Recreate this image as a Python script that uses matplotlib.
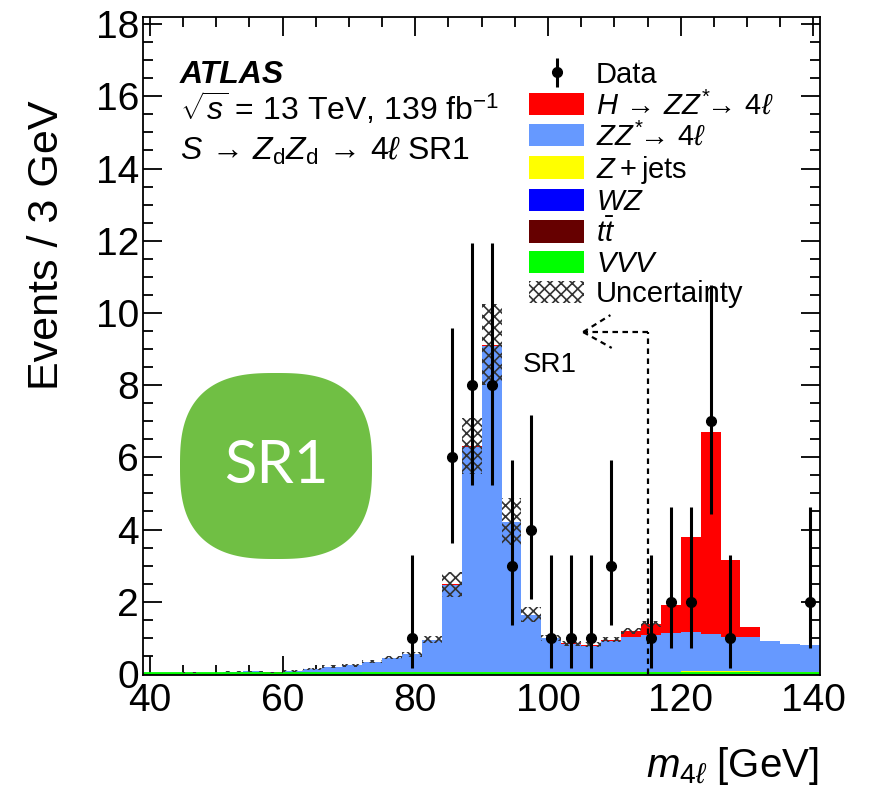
import numpy as np
import matplotlib
matplotlib.use('Agg')
import matplotlib.pyplot as plt
from matplotlib.patches import Patch, Polygon
from matplotlib.ticker import MultipleLocator

plt.rcParams['font.family'] = ['Liberation Sans', 'DejaVu Sans']
plt.rcParams['mathtext.fontset'] = 'custom'
plt.rcParams['mathtext.rm'] = 'Liberation Sans'
plt.rcParams['mathtext.it'] = 'Liberation Sans:italic'
plt.rcParams['mathtext.bf'] = 'Liberation Sans:bold'
plt.rcParams['hatch.linewidth'] = 1.2

####################DATOS####################
# bins de 3 GeV entre 39 y 141
edges = np.arange(39, 142, 3)

vvv = [0.02, 0.02, 0.02, 0.02, 0.02, 0.02, 0.02, 0.02, 0.02, 0.02, 0.02, 0.02, 0.02, 0.02, 0.02, 0.02, 0.02,
       0.02, 0.02, 0.02, 0.02, 0.02, 0.02, 0.02, 0.02, 0.02, 0.02, 0.02, 0.02, 0.02, 0.02, 0.02, 0.02, 0.02]
ttbar = [0, 0, 0, 0, 0, 0, 0, 0, 0, 0, 0, 0, 0, 0, 0, 0.003, 0.005, 0.005, 0.005, 0.003, 0, 0, 0, 0, 0, 0,
         0, 0, 0, 0, 0, 0, 0, 0]
wz = [0, 0, 0, 0, 0, 0, 0, 0, 0, 0, 0, 0, 0, 0, 0, 0.002, 0.002, 0.002, 0.002, 0.002, 0.002, 0.002, 0.002,
      0.002, 0.002, 0.002, 0.002, 0.002, 0.002, 0.002, 0.03, 0.002, 0.002, 0.002]
zjets = [0, 0.005, 0.005, 0.005, 0.01, 0.01, 0.01, 0.01, 0.01, 0.015, 0.015, 0.02, 0.02, 0.03, 0.03, 0.03,
         0.03, 0.03, 0.03, 0.03, 0.03, 0.03, 0.03, 0.03, 0.03, 0.03, 0.04, 0.05, 0.07, 0.07, 0.03, 0.03, 0.02, 0.02]
zz = [0.0, 0.0, 0.01, 0.0, 0.03, 0.04, 0.0, 0.06, 0.10, 0.17, 0.21, 0.30, 0.41, 0.49, 0.90, 2.42, 6.24, 9.04,
      4.14, 1.58, 0.93, 0.77, 0.73, 0.85, 0.98, 1.03, 1.07, 1.08, 1.02, 0.94, 0.94, 0.85, 0.78, 0.76]
higgs = [0, 0, 0, 0, 0, 0, 0.01, 0, 0, 0, 0, 0, 0, 0, 0, 0.01, 0.02, 0.02, 0.02, 0.01, 0.01, 0.03, 0.03, 0.05,
         0.15, 0.30, 0.77, 2.65, 5.58, 2.13, 0.27, 0.02, 0.01, 0.01]
unc = [0.0, 0.01, 0.01, 0.01, 0.02, 0.02, 0.02, 0.03, 0.03, 0.03, 0.04, 0.04, 0.05, 0.07, 0.09, 0.35, 0.78, 1.12,
       0.65, 0.21, 0.08, 0.07, 0.07, 0.07, 0.08, 0.09, 0, 0, 0, 0, 0, 0, 0, 0]

data_x = [79.5, 85.5, 88.5, 91.5, 94.5, 97.5, 100.5, 103.5, 106.5, 109.5, 115.5, 118.5, 121.5, 124.5, 127.5, 139.5]
data_y = [1, 6, 8, 8, 3, 4, 1, 1, 1, 3, 1, 2, 2, 7, 1, 2]
data_lo = [0.173, 3.620, 5.232, 5.232, 1.367, 2.086, 0.173, 0.173, 0.173, 1.367, 0.173, 0.708, 0.708, 4.419, 0.173, 0.708]
data_hi = [3.300, 9.584, 11.95, 11.95, 5.918, 7.163, 3.300, 3.300, 3.300, 5.918, 3.300, 4.638, 4.638, 10.77, 3.300, 4.638]

componentes = [('VVV', vvv, '#00ff00', r'$VVV$'),
               ('tt', ttbar, '#660000', r'$t\bar{t}$'),
               ('WZ', wz, '#0000ff', r'$WZ$'),
               ('Zjets', zjets, '#ffff00', r'$Z+$jets'),
               ('ZZ', zz, '#6699ff', r'$ZZ^{*}\!\!\rightarrow\, 4\ell$'),
               ('H', higgs, '#ff0000', r'$H\,\rightarrow\,ZZ^{*}\!\!\rightarrow\, 4\ell$')]

####################GRAFICA####################
fig = plt.figure(figsize=(8.71, 7.92), dpi=100)
ax = fig.add_axes([0.1645, 0.1477, 0.7770, 0.8305])

base = np.zeros(len(edges) - 1)
for nombre, vals, col, lab in componentes:
    tope = base + np.array(vals)
    ax.stairs(tope, edges, baseline=base, fill=True, color=col, linewidth=0, zorder=2)
    base = tope
total = base

# linea verde del VVV en el fondo
ax.stairs(np.array(vvv), edges, baseline=None, color='#00ff00', linewidth=2, zorder=2.5)

unc = np.array(unc)
ax.bar(edges[:-1] + 1.5, 2 * unc, bottom=total - unc, width=3, fill=False, hatch='xxx',
       edgecolor='#333333', linewidth=0, zorder=3)

dat = ax.errorbar(data_x, data_y,
                  yerr=[np.array(data_y) - np.array(data_lo), np.array(data_hi) - np.array(data_y)],
                  fmt='o', color='black', markersize=7, elinewidth=2.2, capsize=0, zorder=5)

# flecha de la region SR1
estilo = dict(color='black', linestyle=(0, (2.5, 2)), linewidth=1.6, zorder=4)
ax.plot([115, 115], [0, 9.47], **estilo)
ax.plot([115, 105.3], [9.47, 9.47], **estilo)
ax.plot([105.3, 109.4], [9.47, 9.94], **estilo)
ax.plot([105.3, 109.6], [9.47, 9.03], **estilo)
ax.text(100.2, 8.56, 'SR1', fontsize=20, ha='center', va='center')

ax.set_xlim(39, 141)
ax.set_ylim(-0.03, 18.19)
ax.xaxis.set_major_locator(MultipleLocator(20))
ax.xaxis.set_minor_locator(MultipleLocator(5))
ax.yaxis.set_major_locator(MultipleLocator(2))
ax.yaxis.set_minor_locator(MultipleLocator(0.5))
ax.tick_params(which='both', direction='in', top=True, right=True, width=1.3, labelsize=28)
ax.tick_params(which='major', length=14)
ax.tick_params(which='minor', length=7)
ax.tick_params(axis='x', pad=6)
ax.tick_params(axis='y', pad=3)
for s in ax.spines.values():
    s.set_linewidth(1.3)

fig.text(47 / 871, 1 - 100 / 792, 'Events / 3 GeV', rotation=90, ha='center', va='top', fontsize=31)
fig.text(819 / 871, 1 - 777 / 792, r'$m_{4\ell}$ [GeV]', ha='right', va='baseline', fontsize=29)

fig.text(180 / 871, 1 - 83 / 792, 'ATLAS', fontsize=23, fontweight='bold', fontstyle='italic', va='baseline')
fig.text(180 / 871, 1 - 120 / 792, r'$\sqrt{s}$ = 13 TeV, 139 fb$^{-1}$', fontsize=23, va='baseline')
fig.text(180 / 871, 1 - 160 / 792, r'$S\,\rightarrow\,Z_{\mathrm{d}}Z_{\mathrm{d}}\,\rightarrow\,4\ell$ SR1',
         fontsize=23, va='baseline')

# leyenda
handles = [dat]
labels = ['Data']
for nombre, vals, col, lab in componentes[::-1]:
    handles.append(Patch(facecolor=col, edgecolor='none'))
    labels.append(lab)
handles.append(Patch(facecolor='white', edgecolor='#333333', hatch='xxx', linewidth=0))
labels.append('Uncertainty')
fig.legend(handles, labels, loc='upper left', bbox_to_anchor=(529 / 871, 1 - 61 / 792),
           bbox_transform=fig.transFigure, frameon=False, fontsize=21, handlelength=1.9,
           handleheight=0.8, handletextpad=0.4, labelspacing=0.08, borderpad=0, borderaxespad=0)

# insignia verde SR1
t = np.linspace(0, 2 * np.pi, 400)
n = 2.7
cx, cy, a, b = 276, 466, 96, 93
px = cx + a * np.sign(np.cos(t)) * np.abs(np.cos(t)) ** (2 / n)
py = cy + b * np.sign(np.sin(t)) * np.abs(np.sin(t)) ** (2 / n)
fig.patches.append(Polygon(np.column_stack([px / 871, 1 - py / 792]), closed=True, facecolor='#70bf44',
                           edgecolor='none', transform=fig.transFigure, figure=fig))
fig.text(cx / 871, 1 - cy / 792, 'SR1', color='white', fontsize=43, family=['Lato', 'DejaVu Sans'],
         fontweight='normal', ha='center', va='center')

fig.savefig('out.png', dpi=100)
